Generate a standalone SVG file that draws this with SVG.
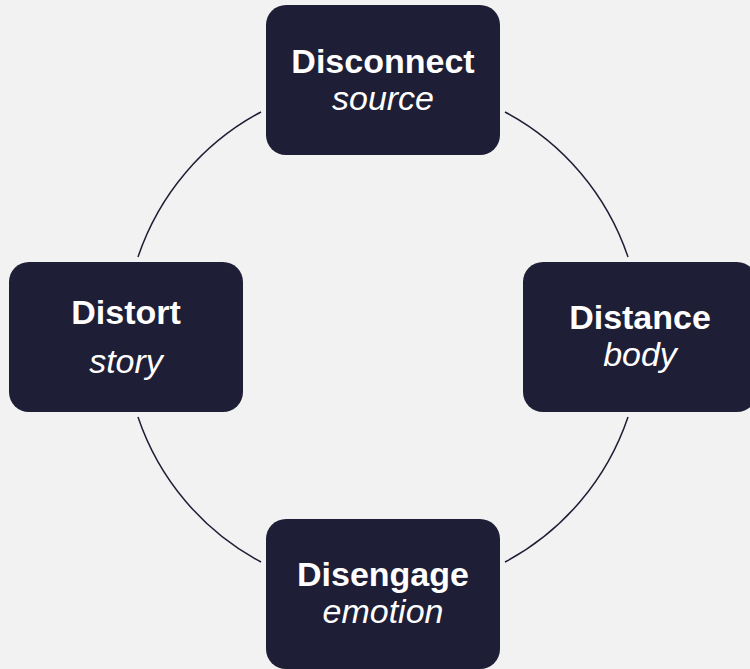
<svg xmlns="http://www.w3.org/2000/svg" width="750" height="669" viewBox="0 0 750 669">
<style>
.box{fill:#1e1e36;}
text{font-family:'Liberation Sans',Arial,sans-serif;font-size:34px;fill:#ffffff;text-anchor:middle;}
.b{font-weight:bold;}
.i{font-style:italic;}
.arc{fill:none;stroke:#1e1e36;stroke-width:1.5;}
</style>
<rect width="750" height="669" fill="#f2f2f2"/>
<g id="connectors">
<path class="arc" d="M 261 112 A 257 257 0 0 0 138 257"/>
<path class="arc" d="M 505 112 A 257 257 0 0 1 628 257"/>
<path class="arc" d="M 628 417 A 257 257 0 0 1 505 562"/>
<path class="arc" d="M 261 562 A 257 257 0 0 1 138 417"/>
</g>
<g id="disconnect">
<rect class="box" x="266" y="5" width="234" height="150" rx="20"/>
<text class="b" x="383" y="73">Disconnect</text>
<text class="i" x="383" y="110">source</text>
</g>
<g id="distort">
<rect class="box" x="9" y="262" width="234" height="150" rx="20"/>
<text class="b" x="126" y="324">Distort</text>
<text class="i" x="126" y="373">story</text>
</g>
<g id="distance">
<rect class="box" x="523" y="262" width="234" height="150" rx="20"/>
<text class="b" x="640" y="329">Distance</text>
<text class="i" x="640" y="366">body</text>
</g>
<g id="disengage">
<rect class="box" x="266" y="519" width="234" height="150" rx="20"/>
<text class="b" x="383" y="586">Disengage</text>
<text class="i" x="383" y="623">emotion</text>
</g>
</svg>
